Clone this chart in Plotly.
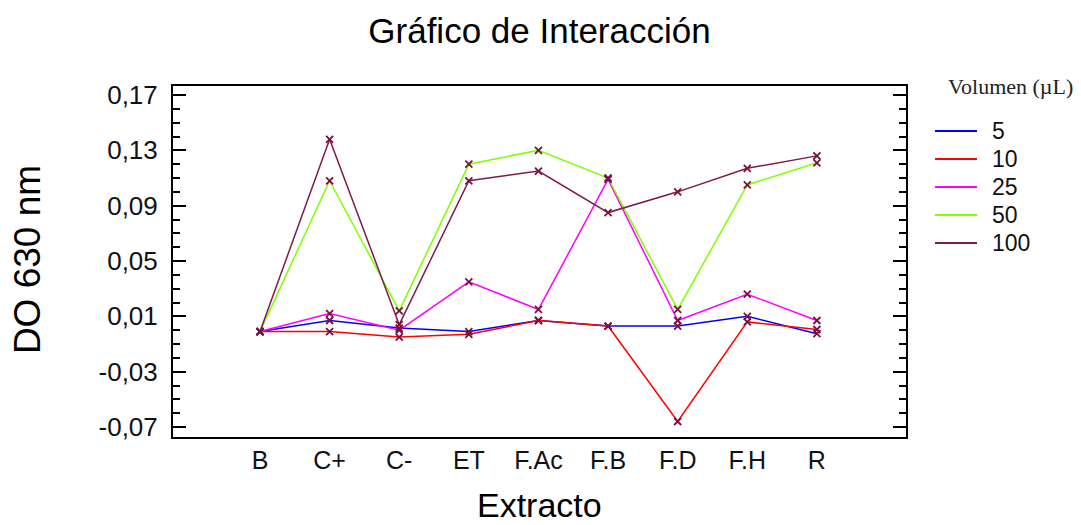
import plotly.graph_objects as go

categories = ["B", "C+", "C-", "ET", "F.Ac", "F.B", "F.D", "F.H", "R"]
series_names = ["5", "10", "25", "50", "100"]
vol_5 = [-0.001, 0.007, 0.0015, -0.001, 0.007, 0.003, 0.003, 0.010, -0.0025]
vol_10 = [-0.001, -0.001, -0.005, -0.003, 0.007, 0.003, -0.066, 0.006, 0.0005]
vol_25 = [-0.001, 0.012, 0.000, 0.035, 0.015, 0.109, 0.007, 0.026, 0.007]
vol_50 = [-0.001, 0.108, 0.014, 0.120, 0.130, 0.110, 0.015, 0.105, 0.121]
vol_100 = [-0.001, 0.138, 0.004, 0.108, 0.115, 0.085, 0.100, 0.117, 0.126]
series_values = [vol_5, vol_10, vol_25, vol_50, vol_100]
y_tick_values = [-0.07, -0.03, 0.01, 0.05, 0.09, 0.13, 0.17]
y_tick_labels = ["-0,07", "-0,03", "0,01", "0,05", "0,09", "0,13", "0,17"]
colors = ["#0000ff", "#ff0000", "#ff00ff", "#80ff00", "#7f1a4a"]

FONT = "Liberation Sans, Arial, sans-serif"
MARK = "#7a1040"

# the page body has an 8px margin, so the figure starts at (8, 8)
W, H = 1073, 517
PL, PR, PT, PB = 165, 898, 78, 429


def px_to_paper_x(px):
    return (px - PL) / (PR - PL)


def px_to_paper_y(py):
    return (PB - py) / (PB - PT)


fig = go.Figure()
xidx = list(range(len(categories)))
for name, vals, col in zip(series_names, series_values, colors):
    fig.add_trace(go.Scatter(
        x=xidx, y=vals, name=name, mode="lines",
        line=dict(color=col, width=1.5), showlegend=False,
    ))
for name, vals in zip(series_names, series_values):
    fig.add_trace(go.Scatter(
        x=xidx, y=vals, name=name, mode="markers", showlegend=False,
        marker=dict(symbol="x-thin-open", size=7, color=MARK,
                    line=dict(color=MARK, width=1.8)),
    ))

# legend (drawn as layout decoration: key lines + labels)
shapes = []
annotations = []
LEG_X0, LEG_X1, LEG_TXT = 927, 969, 982
LEG_Y0, LEG_DY = 123, 28
for i, (name, col) in enumerate(zip(series_names, colors)):
    yy = px_to_paper_y(LEG_Y0 + i * LEG_DY)
    shapes.append(dict(type="line", xref="paper", yref="paper",
                       x0=px_to_paper_x(LEG_X0), x1=px_to_paper_x(LEG_X1),
                       y0=yy, y1=yy, line=dict(color=col, width=2)))
    annotations.append(dict(text=name, xref="paper", yref="paper",
                            x=px_to_paper_x(LEG_TXT), y=yy, showarrow=False,
                            xanchor="left", yanchor="middle",
                            font=dict(family=FONT, size=23, color="#111")))

annotations += [
    dict(text="Extracto", xref="paper", yref="paper", x=0.5, y=0,
         yshift=-68, showarrow=False, yanchor="middle",
         font=dict(family=FONT, size=34, color="#000")),
    dict(text="DO 630 nm", xref="paper", yref="paper", x=0, y=0.504,
         xshift=-146, showarrow=False, textangle=-90,
         xanchor="center", yanchor="middle",
         font=dict(family=FONT, size=37, color="#000")),
    dict(text="Volumen (µL)", xref="paper", yref="paper", x=1, y=1,
         xshift=104, yshift=0, showarrow=False, xanchor="center",
         yanchor="middle",
         font=dict(family="Liberation Serif, Times New Roman, serif",
                   size=22, color="#222")),
]

fig.update_layout(
    width=W, height=H,
    paper_bgcolor="white", plot_bgcolor="white",
    margin=dict(l=PL, r=W - PR, t=PT, b=H - PB, pad=0),
    showlegend=False,
    title=dict(text="Gráfico de Interacción", x=0.5, xref="paper",
               y=1 - 23 / H, yanchor="middle",
               font=dict(family=FONT, size=35, color="#000")),
    xaxis=dict(
        range=[-1.25, 9.28], tickmode="array", tickvals=xidx, ticktext=categories,
        showline=True, linecolor="black", linewidth=2, mirror=True,
        ticks="", showgrid=False, zeroline=False,
        tickfont=dict(family=FONT, size=25, color="#111"),
    ),
    yaxis=dict(
        range=[-0.0772, 0.1765], tickmode="array",
        tickvals=y_tick_values, ticktext=y_tick_labels,
        showline=True, linecolor="black", linewidth=2, mirror="allticks",
        ticks="inside", ticklen=13, tickwidth=2, tickcolor="black",
        ticklabelstandoff=8,
        minor=dict(dtick=0.01, tick0=-0.07, ticks="inside", ticklen=7,
                   tickwidth=2, tickcolor="black"),
        showgrid=False, zeroline=False,
        tickfont=dict(family=FONT, size=26, color="#111"),
    ),
    shapes=shapes,
    annotations=annotations,
)

fig.write_html("out.html")
